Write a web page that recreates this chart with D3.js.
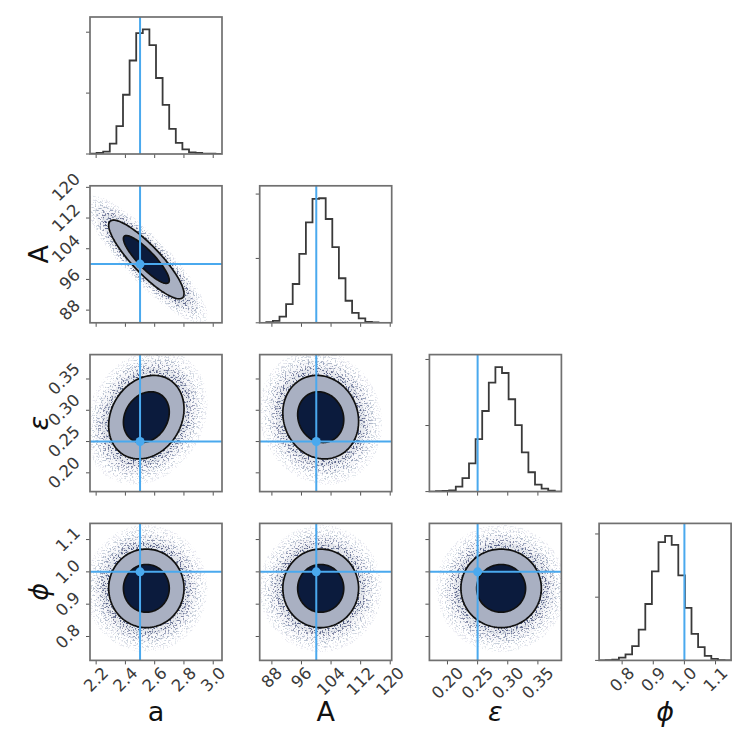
<!DOCTYPE html>
<html><head><meta charset="utf-8">
<script src="https://cdn.jsdelivr.net/npm/d3@7"></script>
<style>body{margin:0;background:#fff}svg{display:block}</style>
</head><body><svg id="c" width="750" height="750"></svg>
<script>
// ---------- data ----------
const labels = ["a", "A", "ε", "ϕ"];
const labelItalic = [false, false, true, true];
const ranges = [[2.158, 3.060], [84.7, 120.4], [0.170, 0.389], [0.726, 1.150]];
const tickVals = [[2.2, 2.4, 2.6, 2.8, 3.0], [88, 96, 104, 112, 120], [0.20, 0.25, 0.30, 0.35], [0.8, 0.9, 1.0, 1.1]];
const tickFmt = [".1f", "d", ".2f", ".1f"];
const truths = [2.5, 100, 0.25, 1.0];
const histA   = [10, 35, 75, 340, 915, 1945, 3070, 3970, 4090, 3575, 2495, 1615, 825, 365, 155, 55, 35, 10, 10, 0];
const histAmp = [0, 20, 60, 190, 580, 1205, 2140, 3120, 3850, 3870, 3225, 2350, 1385, 685, 310, 135, 30, 10, 0, 0];
const histEps = [0, 10, 20, 40, 150, 410, 855, 1590, 2440, 3300, 3770, 3590, 2795, 2010, 1185, 585, 210, 90, 30, 0];
const histPhi = [0, 10, 20, 85, 190, 450, 975, 1785, 2815, 3740, 3940, 3655, 2690, 1660, 840, 420, 145, 50, 10, 0];
const histCounts = [histA, histAmp, histEps, histPhi];
const histTicks = [0, 2000, 4000];
// 2D posterior summaries
const means = [2.543, 101.2, 0.289, 0.949];
const sds = [0.103, 4.1, 0.0267, 0.0486];
const corr = [
  [1, -0.87, 0.2, 0],
  [-0.87, 1, -0.1, 0],
  [0.2, -0.1, 1, 0],
  [0, 0, 0, 1]
];
const levelRadii = [2.5, 1.52];          // outer (light) and inner (dark) contour
const haloRadii = [2.55, 2.7, 2.85, 3.0, 3.15, 3.3, 3.5, 3.75, 4.05];

// ---------- layout ----------
const pw = 132, ph = 137;
const colX = i => 90 + i * 169.7;
const rowY = j => 17 + j * 168.8;
const n = labels.length;
const tickFont = 16.5, tickColor = "#3a3a3a";
const truthColor = "#4aa9ee";
const dark = "#0b1b3d", ring = "#a9b0c2", ptColor = "#15255a";

const svg = d3.select("#c");
const defs = svg.append("defs");
const filt = defs.append("filter").attr("id", "speckle")
  .attr("filterUnits", "userSpaceOnUse").attr("x", 0).attr("y", 0).attr("width", 750).attr("height", 750);
filt.append("feTurbulence").attr("type", "fractalNoise").attr("baseFrequency", 0.6)
  .attr("numOctaves", 2).attr("seed", 11).attr("result", "noise");
filt.append("feColorMatrix").attr("in", "noise").attr("type", "matrix")
  .attr("values", "0 0 0 0 0  0 0 0 0 0  0 0 0 0 0  7 0 0 0 -3.7").attr("result", "dots");
filt.append("feComposite").attr("in", "SourceGraphic").attr("in2", "dots").attr("operator", "in");

const xS = d3.range(n).map(j => d3.scaleLinear().domain(ranges[j]).range([colX(j), colX(j) + pw]));
const yS = d3.range(n).map(i => d3.scaleLinear().domain(ranges[i]).range([rowY(i) + ph, rowY(i)]));

function ellipsePts(j, i, r) {
  const rho = corr[j][i];
  const pts = [];
  for (let k = 0; k < 120; k++) {
    const t = 2 * Math.PI * k / 120;
    const z1 = r * Math.cos(t), z2 = r * Math.sin(t);
    const xv = means[j] + sds[j] * z1;
    const yv = means[i] + sds[i] * (rho * z1 + Math.sqrt(1 - rho * rho) * z2);
    pts.push([xS[j](xv), yS[i](yv)]);
  }
  return pts;
}
const closed = d3.line().curve(d3.curveLinearClosed);

function frame(g, x0, y0) {
  g.append("rect").attr("x", x0).attr("y", y0).attr("width", pw).attr("height", ph)
    .attr("fill", "none").attr("stroke", "#707070").attr("stroke-width", 1.7);
}
function xTicks(g, j, y0) {
  tickVals[j].forEach(v => {
    g.append("line").attr("x1", xS[j](v)).attr("x2", xS[j](v)).attr("y1", y0 + ph).attr("y2", y0 + ph + 4)
      .attr("stroke", "#555").attr("stroke-width", 1);
  });
}
function yTicksPos(g, ys, vals, x0) {
  vals.forEach(v => {
    g.append("line").attr("x1", x0 - 4).attr("x2", x0).attr("y1", ys(v)).attr("y2", ys(v))
      .attr("stroke", "#555").attr("stroke-width", 1);
  });
}
function rotLabel(g, txt, placeFn) {
  const t = g.append("text").text(txt).attr("font-family", "DejaVu Sans").attr("font-size", tickFont)
    .attr("fill", tickColor).attr("text-anchor", "middle").attr("dominant-baseline", "central");
  const w = t.node().getComputedTextLength();
  const half = (w + tickFont) / (2 * Math.SQRT2);
  const [cx, cy] = placeFn(half);
  t.attr("transform", `translate(${cx},${cy}) rotate(-45)`);
}

// ---------- panels ----------
for (let i = 0; i < n; i++) {
  for (let j = 0; j <= i; j++) {
    const x0 = colX(j), y0 = rowY(i);
    const g = svg.append("g");
    const cid = `clip${i}${j}`;
    defs.append("clipPath").attr("id", cid).append("rect").attr("x", x0).attr("y", y0).attr("width", pw).attr("height", ph);
    const inner = g.append("g").attr("clip-path", `url(#${cid})`);
    if (i === j) {
      const counts = histCounts[j];
      const hy = d3.scaleLinear().domain([0, 1.1 * d3.max(counts)]).range([y0 + ph, y0]);
      const edges = d3.range(counts.length + 1).map(k => ranges[j][0] + k * (ranges[j][1] - ranges[j][0]) / counts.length);
      const pts = [[xS[j](edges[0]), hy(0)]];
      counts.forEach((c, k) => pts.push([xS[j](edges[k]), hy(c)]));
      pts.push([xS[j](edges[counts.length]), hy(counts[counts.length - 1])]);
      pts.push([xS[j](edges[counts.length]), hy(0)]);
      inner.append("path").attr("d", d3.line().curve(d3.curveStepAfter)(pts))
        .attr("fill", "none").attr("stroke", "#3a3a3a").attr("stroke-width", 1.8);
      inner.append("line").attr("x1", xS[j](truths[j])).attr("x2", xS[j](truths[j]))
        .attr("y1", y0).attr("y2", y0 + ph).attr("stroke", truthColor).attr("stroke-width", 2);
      yTicksPos(g, hy, histTicks, x0);
    } else {
      const halo = inner.append("g").attr("filter", "url(#speckle)");
      haloRadii.forEach((r, k) => {
        halo.append("path").attr("d", closed(ellipsePts(j, i, r))).attr("fill", ptColor)
          .attr("fill-opacity", k < 5 ? 0.17 : 0.11);
      });
      inner.append("path").attr("d", closed(ellipsePts(j, i, 2.95)))
        .attr("fill", ptColor).attr("fill-opacity", 0.07);
      inner.append("path").attr("d", closed(ellipsePts(j, i, 3.4)))
        .attr("fill", ptColor).attr("fill-opacity", 0.03);
      inner.append("path").attr("d", closed(ellipsePts(j, i, levelRadii[0])))
        .attr("fill", ring).attr("stroke", "#111").attr("stroke-width", 1.7);
      inner.append("path").attr("d", closed(ellipsePts(j, i, levelRadii[1])))
        .attr("fill", dark).attr("stroke", "#111").attr("stroke-width", 1.7);
      const tx = xS[j](truths[j]), ty = yS[i](truths[i]);
      inner.append("line").attr("x1", tx).attr("x2", tx).attr("y1", y0).attr("y2", y0 + ph)
        .attr("stroke", truthColor).attr("stroke-width", 2);
      inner.append("line").attr("x1", x0).attr("x2", x0 + pw).attr("y1", ty).attr("y2", ty)
        .attr("stroke", truthColor).attr("stroke-width", 2);
      inner.append("circle").attr("cx", tx).attr("cy", ty).attr("r", 4.5).attr("fill", truthColor);
      yTicksPos(g, yS[i], tickVals[i], x0);
      if (j === 0) {
        tickVals[i].forEach(v => {
          rotLabel(g, d3.format(tickFmt[i])(v), half => [x0 - 7 - half, yS[i](v)]);
        });
      }
    }
    xTicks(g, j, y0);
    if (i === n - 1) {
      tickVals[j].forEach(v => {
        rotLabel(g, d3.format(tickFmt[j])(v), half => [xS[j](v), y0 + ph + 4 + half]);
      });
      svg.append("text").text(labels[j]).attr("x", x0 + pw / 2).attr("y", 721)
        .attr("text-anchor", "middle").attr("font-family", "DejaVu Sans").attr("font-size", 27)
        .attr("font-style", labelItalic[j] ? "italic" : "normal").attr("fill", "#111");
    }
    if (j === 0 && i > 0) {
      svg.append("text").text(labels[i])
        .attr("transform", `translate(38,${y0 + ph / 2}) rotate(-90)`)
        .attr("text-anchor", "middle").attr("dominant-baseline", "central")
        .attr("font-family", "DejaVu Sans").attr("font-size", 27)
        .attr("font-style", labelItalic[i] ? "italic" : "normal").attr("fill", "#111");
    }
    frame(g, x0, y0);
  }
}
</script>
</body></html>
